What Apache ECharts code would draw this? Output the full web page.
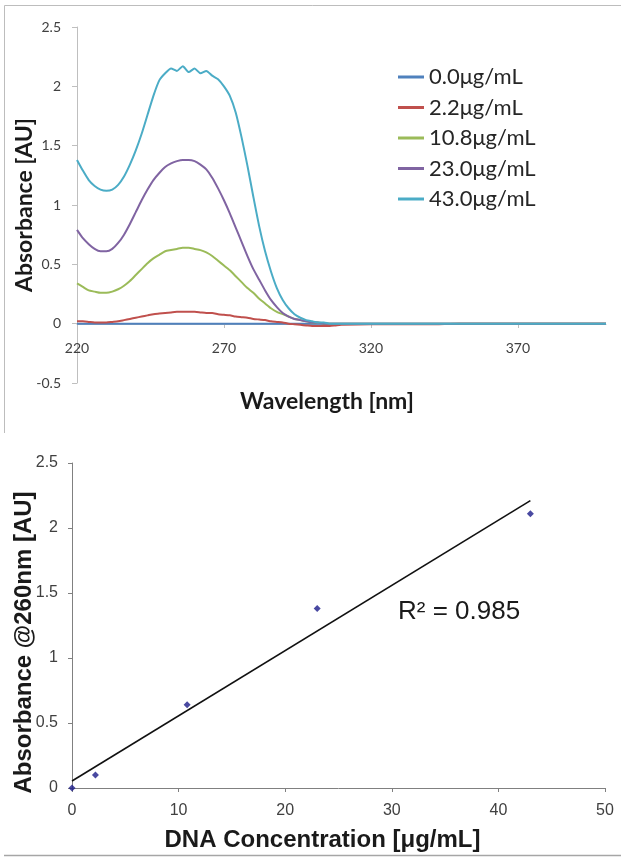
<!DOCTYPE html>
<html><head><meta charset="utf-8">
<script src="https://cdn.jsdelivr.net/npm/echarts@6/dist/echarts.min.js"></script>
<style>html,body{margin:0;padding:0;background:#fff}#c{width:621px;height:857px}</style>
</head><body><div id="c"></div>
<script>
// ---- Spectrum data (top chart) ----
const wavelengths = [220,222,224,226,228,230,232,234,236,238,240,242,244,246,248,250,252,254,256,258,260,262,264,266,268,270,272,274,276,278,280,282,284,286,288,290,292,294,296,298,300,302,304,306,308,310,320,330,340,350,360,370,380,390,400];
const seriesNames = ['0.0μg/mL','2.2μg/mL','10.8μg/mL','23.0μg/mL','43.0μg/mL'];
const abs00 = [0,0,0,0,0,0,0,0,0,0,0,0,0,0,0,0,0,0,0,0,0,0,0,0,0,0,0,0,0,0,0,0,0,0,0,0,0,0,0,0,0,0,0,0,0,0,0,0,0,0,0,0,0,0,0];
const abs22 = [0.02,0.02,0.015,0.01,0.01,0.01,0.015,0.02,0.03,0.04,0.05,0.06,0.07,0.08,0.085,0.09,0.095,0.10,0.10,0.10,0.10,0.095,0.09,0.09,0.08,0.075,0.07,0.06,0.055,0.05,0.04,0.035,0.03,0.02,0.015,0.01,0.00,-0.005,-0.01,-0.015,-0.02,-0.02,-0.02,-0.02,-0.015,-0.01,-0.005,-0.005,-0.005,0,0,0,0,0,0];
const abs108 = [0.34,0.31,0.28,0.27,0.26,0.26,0.27,0.29,0.32,0.36,0.41,0.46,0.51,0.55,0.58,0.61,0.62,0.63,0.64,0.64,0.63,0.62,0.60,0.57,0.53,0.49,0.45,0.40,0.35,0.30,0.26,0.21,0.17,0.13,0.10,0.08,0.06,0.04,0.03,0.02,0.01,0.01,0,0,0,0,0,0,0,0,0,0,0,0,0];
const abs230 = [0.79,0.72,0.67,0.63,0.61,0.61,0.63,0.68,0.75,0.84,0.94,1.04,1.13,1.21,1.27,1.32,1.35,1.37,1.38,1.38,1.37,1.34,1.30,1.23,1.14,1.04,0.93,0.81,0.69,0.57,0.46,0.37,0.28,0.20,0.14,0.09,0.06,0.04,0.03,0.02,0.01,0.01,0,0,0,0,0,0,0,0,0,0,0,0,0];
const abs430 = [1.38,1.29,1.21,1.16,1.13,1.12,1.13,1.17,1.24,1.34,1.46,1.60,1.76,1.92,2.05,2.11,2.15,2.13,2.17,2.12,2.15,2.11,2.13,2.09,2.06,2.00,1.92,1.78,1.57,1.33,1.07,0.82,0.61,0.44,0.30,0.20,0.13,0.08,0.05,0.03,0.02,0.01,0.01,0,0,0,0,0,0,0,0,0,0,0,0];
const seriesColors = ['#4F81BD','#C0504D','#9BBB59','#8064A2','#4BACC6'];

// ---- Calibration data (bottom chart) ----
const concentrations = [0, 2.2, 10.8, 23.0, 43.0];
const abs260 = [0, 0.10, 0.64, 1.38, 2.11];
const rSquaredLabel = 'R² = 0.985';

// linear least-squares trendline from the calibration points
const n = concentrations.length;
const mx = concentrations.reduce((a,b)=>a+b,0)/n;
const my = abs260.reduce((a,b)=>a+b,0)/n;
let sxx = 0, sxy = 0;
for (let i=0;i<n;i++){ sxx += (concentrations[i]-mx)**2; sxy += (concentrations[i]-mx)*(abs260[i]-my); }
const slope = sxy/sxx, intercept = my - slope*mx;
const xFirst = concentrations[0], xLast = concentrations[n-1];
const trend = [[xFirst, intercept + slope*xFirst],[xLast, intercept + slope*xLast]];

const spectra = [abs00, abs22, abs108, abs230, abs430];
const topFont = 'Lato, "Open Sans", sans-serif';
const botFont = '"Liberation Sans", Arial, sans-serif';

const chart = echarts.init(document.getElementById('c'), null, {renderer:'canvas'});
const option = {
  animation: false,
  backgroundColor: '#fff',
  legend: {
    data: seriesNames,
    orient: 'vertical',
    left: 393, top: 61,
    icon: 'rect',
    itemWidth: 26, itemHeight: 3,
    itemGap: 8.5,
    textStyle: {fontFamily: topFont, fontSize: 22, color: '#262626', lineHeight: 22}
  },
  grid: [
    {left: 77, top: 27, right: 15, height: 356, containLabel: false, outerBoundsMode: 'none'},
    {left: 72, top: 463, width: 533, height: 325, containLabel: false, outerBoundsMode: 'none'},
    // axis carrier for the top chart's x axis, sitting on absorbance = 0
    {left: 77, top: 27, right: 15, height: 297, containLabel: false, outerBoundsMode: 'none'}
  ],
  xAxis: [
    {
      gridIndex: 0, type: 'value', min: 220, max: 400, interval: 50,
      axisLine: {show: false, onZero: false}, axisTick: {show: false},
      axisLabel: {show: false}, splitLine: {show: false}
    },
    {
      gridIndex: 1, type: 'value', min: 0, max: 50, interval: 10,
      axisLine: {lineStyle: {color: '#808080'}},
      axisTick: {show: true, length: 4, lineStyle: {color: '#808080'}},
      axisLabel: {fontFamily: botFont, fontSize: 16, color: '#404040', margin: 15},
      splitLine: {show: false},
      name: 'DNA Concentration [μg/mL]', nameLocation: 'middle', nameGap: 40, nameMoveOverlap: false,
      nameTextStyle: {fontFamily: botFont, fontSize: 24, fontWeight: 'bold', color: '#1a1a1a', padding: [0, 32, 0, 0]}
    },
    {
      gridIndex: 2, type: 'value', min: 220, max: 400, interval: 50,
      axisLine: {show: true, onZero: false, lineStyle: {color: '#bfbfbf'}},
      axisTick: {show: true, length: 4, lineStyle: {color: '#bfbfbf'}},
      axisLabel: {showMaxLabel: false, fontFamily: topFont, fontSize: 14, color: '#404040', margin: 17},
      splitLine: {show: false},
      name: 'Wavelength [nm]', nameLocation: 'middle', nameGap: 66, nameMoveOverlap: false,
      nameTextStyle: {fontFamily: topFont, fontSize: 23, fontWeight: 'bold', color: '#1a1a1a', padding: [0, 29, 0, 0]}
    }
  ],
  yAxis: [
    {
      gridIndex: 0, type: 'value', min: -0.5, max: 2.5, interval: 0.5,
      axisLine: {show: true, lineStyle: {color: '#bfbfbf'}},
      axisTick: {show: true, length: 5, lineStyle: {color: '#bfbfbf'}},
      axisLabel: {fontFamily: topFont, fontSize: 14, color: '#404040', margin: 16},
      splitLine: {show: false},
      name: 'Absorbance [AU]', nameLocation: 'middle', nameGap: 41, nameMoveOverlap: false,
      nameTextStyle: {fontFamily: topFont, fontSize: 23, fontWeight: 'bold', color: '#1a1a1a'}
    },
    {
      gridIndex: 1, type: 'value', min: 0, max: 2.5, interval: 0.5,
      axisLine: {show: true, lineStyle: {color: '#808080'}},
      axisTick: {show: true, length: 4, lineStyle: {color: '#808080'}},
      axisLabel: {fontFamily: botFont, fontSize: 16, color: '#404040', margin: 14},
      splitLine: {show: false},
      name: 'Absorbance @260nm [AU]', nameLocation: 'middle', nameGap: 36, nameMoveOverlap: false,
      nameTextStyle: {fontFamily: botFont, fontSize: 24, fontWeight: 'bold', color: '#1a1a1a', padding: [0, 34, 0, 0]}
    },
    {
      gridIndex: 2, type: 'value', min: 0, max: 1, show: false
    }
  ],
  series: spectra.map((vals, k) => ({
    name: seriesNames[k], type: 'line', xAxisIndex: 0, yAxisIndex: 0,
    data: wavelengths.map((w, i) => [w, vals[i]]),
    showSymbol: false, symbol: 'none', smooth: 0.2,
    lineStyle: {width: 2, color: seriesColors[k]}, itemStyle: {color: seriesColors[k]}
  })).concat([
    {
      name: 'trend', type: 'line', xAxisIndex: 1, yAxisIndex: 1,
      data: trend, showSymbol: false, symbol: 'none',
      lineStyle: {width: 1.6, color: '#111'}
    },
    {
      name: 'points', type: 'scatter', xAxisIndex: 1, yAxisIndex: 1,
      data: concentrations.map((c, i) => [c, abs260[i]]),
      symbol: 'diamond', symbolSize: 7, itemStyle: {color: '#1c1c8a'}
    }
  ]),
  graphic: [
    {type: 'line', shape: {x1: 4.5, y1: 5.5, x2: 621, y2: 5.5}, style: {stroke: '#bdbdbd', lineWidth: 1}},
    {type: 'line', shape: {x1: 4.5, y1: 5.5, x2: 4.5, y2: 433}, style: {stroke: '#bdbdbd', lineWidth: 1}},
    {type: 'line', shape: {x1: 4, y1: 855.5, x2: 621, y2: 855.5}, style: {stroke: '#a6a6a6', lineWidth: 1.5}},
    {type: 'text', left: 398, top: 599, style: {text: rSquaredLabel, font: '26px "Liberation Sans", Arial, sans-serif', fill: '#1a1a1a'}}
  ]
};
chart.setOption(option);
</script></body></html>
